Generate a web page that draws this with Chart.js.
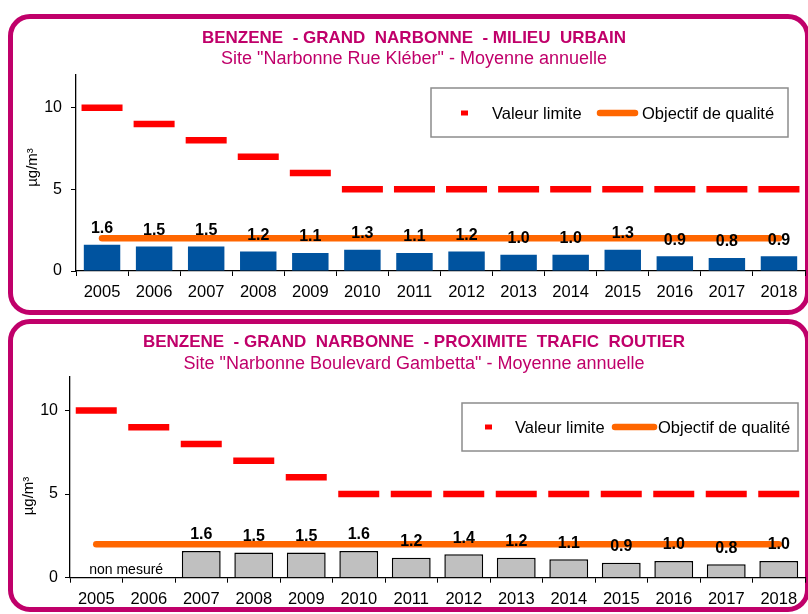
<!DOCTYPE html>
<html><head><meta charset="utf-8">
<script src="https://cdn.jsdelivr.net/npm/chart.js@4.4.1/dist/chart.umd.min.js"></script>
<style>
html,body{margin:0;padding:0;background:#fff;}
#wrap{position:relative;width:808px;height:614px;overflow:hidden;}
.panel{position:absolute;border:5px solid #C0006A;border-radius:22px;box-sizing:border-box;}
canvas{position:absolute;left:0;}
</style></head><body>
<div id="wrap">
<div class="panel" style="left:8px;top:14px;width:802px;height:301px;"></div>
<div class="panel" style="left:8px;top:319px;width:802px;height:293px;"></div>
<canvas id="c1" width="808" height="317" style="top:0"></canvas>
<canvas id="c2" width="808" height="297" style="top:317px"></canvas>
</div>
<script>
// ---- data ----
const years = ['2005','2006','2007','2008','2009','2010','2011','2012','2013','2014','2015','2016','2017','2018'];
const urbainValues = [1.6,1.5,1.5,1.2,1.1,1.3,1.1,1.2,1.0,1.0,1.3,0.9,0.8,0.9];
const traficValues = [null,null,1.6,1.5,1.5,1.6,1.2,1.4,1.2,1.1,0.9,1.0,0.8,1.0];
const valeurLimite = [10,9,8,7,6,5,5,5,5,5,5,5,5,5];
const objectifQualite = [2,2,2,2,2,2,2,2,2,2,2,2,2,2];
const yTicks = [0,5,10];
const labelValeur = 'Valeur limite';
const labelObjectif = 'Objectif de qualité';
const unitLabel = 'µg/m³';

const FONT = '"Liberation Sans", Arial, sans-serif';
Chart.defaults.font.family = FONT;
Chart.defaults.color = '#000';

const decorPlugin = {
  id: 'decor',
  afterDatasetsDraw(chart, args, opts) {
    const ctx = chart.ctx;
    const meta = chart.getDatasetMeta(0);
    const vals = chart.data.datasets[0].data;
    ctx.save();
    ctx.font = 'bold 16px ' + FONT;
    ctx.fillStyle = '#000';
    ctx.textAlign = 'center';
    ctx.textBaseline = 'middle';
    meta.data.forEach((el, i) => {
      const v = vals[i];
      if (v === null || v === undefined) return;
      ctx.fillText(v.toFixed(1), el.x, el.y - opts.labelOffset);
    });
    ctx.restore();
  },
  afterDraw(chart, args, opts) {
    const ctx = chart.ctx;
    ctx.save();
    // legend
    const lg = opts.legend;
    const [l, t, r, b] = lg.box;
    ctx.fillStyle = '#fff';
    ctx.fillRect(l, t, r - l, b - t);
    ctx.strokeStyle = '#8C8C8C';
    ctx.lineWidth = 1.5;
    ctx.strokeRect(l, t, r - l, b - t);
    ctx.font = '16.5px ' + FONT;
    ctx.textBaseline = 'middle';
    ctx.textAlign = 'left';
    lg.items.forEach(it => {
      const ds = chart.data.datasets[it.ds];
      ctx.beginPath();
      if (it.round) {
        ctx.lineCap = 'round';
        ctx.strokeStyle = ds.borderColor;
        ctx.lineWidth = 6.5;
        ctx.moveTo(it.sx + 3, lg.textY);
        ctx.lineTo(it.sx + it.sw - 3, lg.textY);
      } else {
        ctx.lineCap = 'butt';
        ctx.strokeStyle = ds.pointBorderColor;
        ctx.lineWidth = 5;
        ctx.moveTo(it.sx, lg.textY);
        ctx.lineTo(it.sx + it.sw, lg.textY);
      }
      ctx.stroke();
      ctx.fillStyle = '#000';
      ctx.fillText(ds.label, it.tx, lg.textY + 1);
    });
    // axis title
    ctx.save();
    ctx.translate(opts.axisTitle.x, opts.axisTitle.y);
    ctx.rotate(-Math.PI / 2);
    ctx.font = '15px ' + FONT;
    ctx.textAlign = 'center';
    ctx.textBaseline = 'middle';
    ctx.fillStyle = '#000';
    ctx.fillText(opts.axisTitle.text, 0, 0);
    ctx.restore();
    // note
    if (opts.note) {
      const xs = chart.scales.x, ys = chart.scales.y;
      ctx.font = '14px ' + FONT;
      ctx.textAlign = 'center';
      ctx.textBaseline = 'middle';
      ctx.fillStyle = '#000';
      ctx.fillText(opts.note.text, xs.getPixelForValue(opts.note.index), ys.getPixelForValue(0) + opts.note.dy);
    }
    ctx.restore();
  }
};

function makeChart(id, cfg) {
  return new Chart(document.getElementById(id), {
    type: 'bar',
    data: {
      labels: years,
      datasets: [
        { type: 'bar', label: 'Moyenne annuelle', data: cfg.values,
          backgroundColor: cfg.barColor, borderColor: cfg.barBorder, borderWidth: cfg.barBorderWidth,
          barPercentage: cfg.barPct, categoryPercentage: 1, order: 3 },
        { type: 'line', label: labelObjectif, data: objectifQualite,
          borderColor: '#FF6600', backgroundColor: '#FF6600', borderWidth: 6.5, borderCapStyle: 'round',
          pointRadius: 0, fill: false, tension: 0, order: 2, clip: 10 },
        { type: 'line', label: labelValeur, data: valeurLimite, showLine: false,
          pointStyle: 'line', pointRadius: 20.5, pointBorderWidth: 6.5,
          pointBorderColor: '#FF0000', borderColor: '#FF0000', backgroundColor: '#FF0000', order: 1, clip: 30 }
      ]
    },
    options: {
      responsive: false,
      animation: false,
      events: [],
      layout: { autoPadding: false, padding: { left: 23, right: 3, top: 0, bottom: 0 } },
      plugins: {
        legend: { display: false },
        tooltip: { enabled: false },
        title: { display: true, text: cfg.title, color: '#C0006A',
          font: { size: 17, weight: 'bold', lineHeight: 1.2 }, padding: { top: cfg.tPadTop, bottom: 0 } },
        subtitle: { display: true, text: cfg.subtitle, color: '#C0006A',
          font: { size: 18, weight: 'normal', lineHeight: 1.2 }, padding: { top: cfg.sPadTop, bottom: cfg.sPadBottom } },
        decor: { labelOffset: 16, legend: cfg.legend, axisTitle: cfg.axisTitle, note: cfg.note }
      },
      scales: {
        x: {
          grid: { offset: true, drawOnChartArea: false, drawTicks: true, tickLength: 5, color: '#000', lineWidth: 1 },
          border: { color: '#000', width: 1.3 },
          ticks: { font: { size: 16.5 }, color: '#000', padding: cfg.xPad, maxRotation: 0, autoSkip: false },
          afterFit: s => { s.height = cfg.xHeight; s.paddingLeft = 0; s.paddingRight = 0; }
        },
        y: {
          min: 0, max: 12,
          grid: { drawOnChartArea: false, drawTicks: true, tickLength: 5, color: '#000', lineWidth: 1 },
          border: { color: '#000', width: 1.3 },
          ticks: { font: { size: 16 }, color: '#000', padding: cfg.yPad },
          afterBuildTicks: s => { s.ticks = yTicks.map(v => ({ value: v })); },
          afterFit: s => { s.width = cfg.yWidth; s.paddingTop = 0; s.paddingBottom = 0; }
        }
      }
    },
    plugins: [decorPlugin]
  });
}

makeChart('c1', {
  values: urbainValues,
  barColor: '#00539F', barBorder: '#00539F', barBorderWidth: 0, barPct: 0.7,
  title: 'BENZENE  - GRAND  NARBONNE  - MILIEU  URBAIN',
  subtitle: 'Site "Narbonne Rue Kléber" - Moyenne annuelle',
  tPadTop: 27.8, sPadTop: 0, sPadBottom: 5.2,
  xPad: 7, xHeight: 46, yPad: 9, yWidth: 53,
  legend: { box: [431, 88, 788, 137], textY: 113,
    items: [ { ds: 2, sx: 461, sw: 7, tx: 492 }, { ds: 1, sx: 597, sw: 41, tx: 642, round: true } ] },
  axisTitle: { text: unitLabel, x: 32.5, y: 167.5 },
  note: null
});

makeChart('c2', {
  values: traficValues,
  barColor: '#C0C0C0', barBorder: '#000000', barBorderWidth: 1.5, barPct: 0.74,
  title: 'BENZENE  - GRAND  NARBONNE  - PROXIMITE  TRAFIC  ROUTIER',
  subtitle: 'Site "Narbonne Boulevard Gambetta" - Moyenne annuelle',
  tPadTop: 14.8, sPadTop: 1.0, sPadBottom: 2.2,
  xPad: 6.4, xHeight: 36.3, yPad: 7, yWidth: 47,
  legend: { box: [462, 86, 798, 134], textY: 110,
    items: [ { ds: 2, sx: 485, sw: 7, tx: 515 }, { ds: 1, sx: 612, sw: 45, tx: 658, round: true } ] },
  axisTitle: { text: unitLabel, x: 29, y: 179 },
  note: { text: 'non mesuré', index: 0.57, dy: -8 }
});
</script>
</body></html>
